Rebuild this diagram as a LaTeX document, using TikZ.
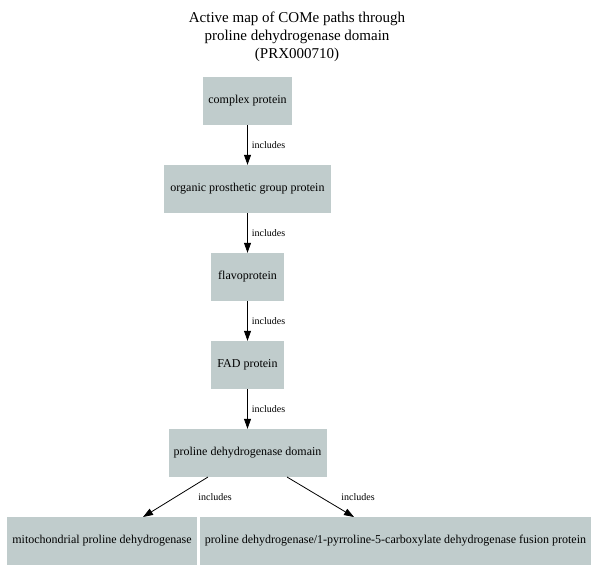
\documentclass[tikz,border=0pt]{standalone}
\usepackage{fontspec}
\setmainfont{Liberation Serif}
\usetikzlibrary{arrows.meta}
\definecolor{boxfill}{RGB}{192,204,204}
\begin{document}
\begin{tikzpicture}[x=1pt,y=-1pt,
  box/.style={fill=boxfill,draw=none,minimum height=48pt,inner sep=0pt,font=\fontsize{12}{14}\selectfont},
  edge/.style={-{Triangle[length=10pt,width=7pt]},line width=0.8pt},
  lbl/.style={font=\fontsize{10}{11}\selectfont,inner sep=0pt}]
\useasboundingbox (0,0) rectangle (596,582);
\node[align=center,font=\fontsize{15}{18}\selectfont] (title) at (297,37) {Active map of COMe paths through\\proline dehydrogenase domain\\(PRX000710)};
\node[box,minimum width=89pt] (a) at (247.5,101) {complex protein};
\node[box,minimum width=167pt] (b) at (247.5,189) {organic prosthetic group protein};
\node[box,minimum width=73pt] (c) at (247.5,277) {flavoprotein};
\node[box,minimum width=73pt] (d) at (247.5,365) {FAD protein};
\node[box,minimum width=158pt] (e) at (247.5,453) {proline dehydrogenase domain};
\node[box,minimum width=190pt] (f) at (102,541) {mitochondrial proline dehydrogenase};
\node[box,minimum width=391pt] (g) at (395.5,541) {proline dehydrogenase/1-pyrroline-5-carboxylate dehydrogenase fusion protein};
\coordinate (e1) at (208,477);
\coordinate (e2) at (287,477);
\coordinate (f1) at (143,517);
\coordinate (g1) at (354,517);
\draw[edge] (a) -- node[lbl,right=4pt] {includes} (b);
\draw[edge] (b) -- node[lbl,right=4pt] {includes} (c);
\draw[edge] (c) -- node[lbl,right=4pt] {includes} (d);
\draw[edge] (d) -- node[lbl,right=4pt] {includes} (e);
\draw[edge] (e1) -- (f1);
\draw[edge] (e2) -- (g1);
\node[lbl] (l1) at (215,497) {includes};
\node[lbl] (l2) at (358,497) {includes};
\end{tikzpicture}
\end{document}
